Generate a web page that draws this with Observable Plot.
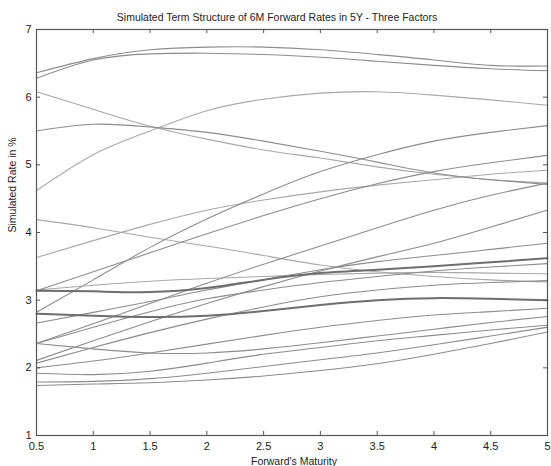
<!DOCTYPE html>
<html><head><meta charset="utf-8">
<script src="https://cdn.jsdelivr.net/npm/d3@7"></script>
<script src="https://cdn.jsdelivr.net/npm/@observablehq/plot@0.6"></script>
<style>body{margin:0;background:#fff;}</style>
</head><body><div id="chart"></div>
<script>
const maturities = [0.5, 1, 1.5, 2, 2.5, 3, 3.5, 4, 4.5, 5];
const xTicks = [0.5, 1, 1.5, 2, 2.5, 3, 3.5, 4, 4.5, 5];
const yTicks = [1, 2, 3, 4, 5, 6, 7];
const titleText = "Simulated Term Structure of 6M Forward Rates in 5Y - Three Factors";
const xLabel = "Forward's Maturity";
const yLabel = "Simulated Rate in %";

const pathA = [6.36, 6.57, 6.70, 6.74, 6.74, 6.70, 6.63, 6.55, 6.47, 6.46];
const pathB = [6.28, 6.55, 6.64, 6.65, 6.63, 6.59, 6.53, 6.47, 6.42, 6.39];
const pathC = [6.08, 5.82, 5.57, 5.38, 5.22, 5.10, 4.97, 4.86, 4.78, 4.73];
const pathD = [5.50, 5.60, 5.56, 5.48, 5.35, 5.20, 5.04, 4.88, 4.78, 4.71];
const pathE = [4.62, 5.15, 5.50, 5.80, 5.97, 6.06, 6.08, 6.03, 5.96, 5.88];
const pathF = [2.82, 3.30, 3.78, 4.20, 4.57, 4.90, 5.15, 5.35, 5.48, 5.58];
const pathH = [4.19, 4.07, 3.93, 3.80, 3.66, 3.52, 3.42, 3.35, 3.30, 3.27];
const pathI = [3.63, 3.88, 4.12, 4.33, 4.48, 4.60, 4.70, 4.78, 4.86, 4.92];
const pathK = [3.14, 3.42, 3.70, 3.98, 4.25, 4.50, 4.72, 4.90, 5.03, 5.14];
const pathL = [2.36, 2.65, 2.95, 3.25, 3.53, 3.80, 4.07, 4.33, 4.55, 4.73];
const pathM = [2.11, 2.40, 2.68, 2.95, 3.20, 3.43, 3.64, 3.84, 4.08, 4.33];
const pathN = [2.66, 2.82, 2.98, 3.15, 3.30, 3.45, 3.57, 3.66, 3.75, 3.84];
const pathP = [2.36, 2.60, 2.83, 3.02, 3.15, 3.26, 3.35, 3.43, 3.49, 3.54];
const pathQ = [2.36, 2.28, 2.22, 2.22, 2.28, 2.37, 2.47, 2.57, 2.67, 2.76];
const pathR = [2.00, 2.10, 2.22, 2.35, 2.48, 2.60, 2.70, 2.78, 2.83, 2.88];
const pathS = [1.92, 1.90, 1.95, 2.07, 2.20, 2.30, 2.40, 2.48, 2.56, 2.63];
const pathT = [3.14, 3.13, 3.12, 3.18, 3.30, 3.40, 3.45, 3.50, 3.56, 3.62];
const pathU = [2.80, 2.77, 2.75, 2.77, 2.84, 2.93, 3.00, 3.03, 3.02, 3.00];
const pathW = [1.79, 1.80, 1.84, 1.92, 2.02, 2.12, 2.22, 2.34, 2.47, 2.60];
const pathX = [1.74, 1.76, 1.78, 1.82, 1.88, 1.96, 2.06, 2.20, 2.36, 2.53];
const pathY = [2.07, 2.30, 2.52, 2.72, 2.90, 3.05, 3.15, 3.22, 3.26, 3.29];
const pathZ = [3.15, 3.22, 3.28, 3.32, 3.35, 3.38, 3.40, 3.41, 3.40, 3.39];

const paths = {A: pathA, B: pathB, C: pathC, D: pathD, E: pathE, F: pathF, H: pathH, I: pathI,
  K: pathK, L: pathL, M: pathM, N: pathN, P: pathP, Q: pathQ, R: pathR, S: pathS, T: pathT,
  U: pathU, W: pathW, X: pathX, Y: pathY, Z: pathZ};

const thickNames = new Set(["T", "U"]);
const lightNames = new Set(["C", "E", "H", "I", "Z"]);
const rows = Object.entries(paths).flatMap(([name, vals]) =>
  vals.map((v, i) => ({name, m: maturities[i], r: v})));

const W = 551, H = 466, mL = 36, mR = 4, mT = 29, mB = 31;
const innerW = W - mL - mR, innerH = H - mT - mB;
const tick = 4;
const axisColor = "#555";

const chart = Plot.plot({
  width: W, height: H,
  marginLeft: mL, marginRight: mR, marginTop: mT, marginBottom: mB,
  style: {fontFamily: "'Liberation Sans', Arial, sans-serif", fontSize: "11px", background: "#fff", color: "#222", overflow: "visible"},
  x: {domain: [0.5, 5]},
  y: {domain: [1, 7]},
  marks: [
    Plot.line(rows.filter(d => lightNames.has(d.name)), {x: "m", y: "r", z: "name", stroke: "#a8a8a8", strokeWidth: 1.1, curve: "natural"}),
    Plot.line(rows.filter(d => !lightNames.has(d.name) && !thickNames.has(d.name)), {x: "m", y: "r", z: "name", stroke: "#8c8c8c", strokeWidth: 1.1, curve: "natural"}),
    Plot.line(rows.filter(d => thickNames.has(d.name)), {x: "m", y: "r", z: "name", stroke: "#6e6e6e", strokeWidth: 2, curve: "natural"}),
    Plot.frame({stroke: axisColor, strokeWidth: 1.2}),
    Plot.tickX(xTicks, {x: d => d, stroke: axisColor, insetTop: innerH - tick}),
    Plot.tickX(xTicks, {x: d => d, stroke: axisColor, insetBottom: innerH - tick}),
    Plot.tickY(yTicks, {y: d => d, stroke: axisColor, insetRight: innerW - tick}),
    Plot.tickY(yTicks, {y: d => d, stroke: axisColor, insetLeft: innerW - tick}),
    Plot.axisX({ticks: xTicks, tickSize: 0, tickPadding: 7, label: null, tickFormat: d => String(d)}),
    Plot.axisY({ticks: yTicks, tickSize: 0, tickPadding: 5, label: null, tickFormat: d => String(d)}),
    Plot.text([titleText], {frameAnchor: "top", dy: -12, dx: -15, lineAnchor: "middle", fontSize: 10.5, fill: "#222"}),
    Plot.text([xLabel], {frameAnchor: "bottom", dy: 26, dx: 2, lineAnchor: "middle", fontSize: 10.5, fill: "#222"}),
    Plot.text([yLabel], {frameAnchor: "left", dx: -24, rotate: -90, lineAnchor: "middle", fontSize: 10.5, fill: "#222"})
  ]
});
document.getElementById("chart").appendChild(chart);
</script>
</body></html>
